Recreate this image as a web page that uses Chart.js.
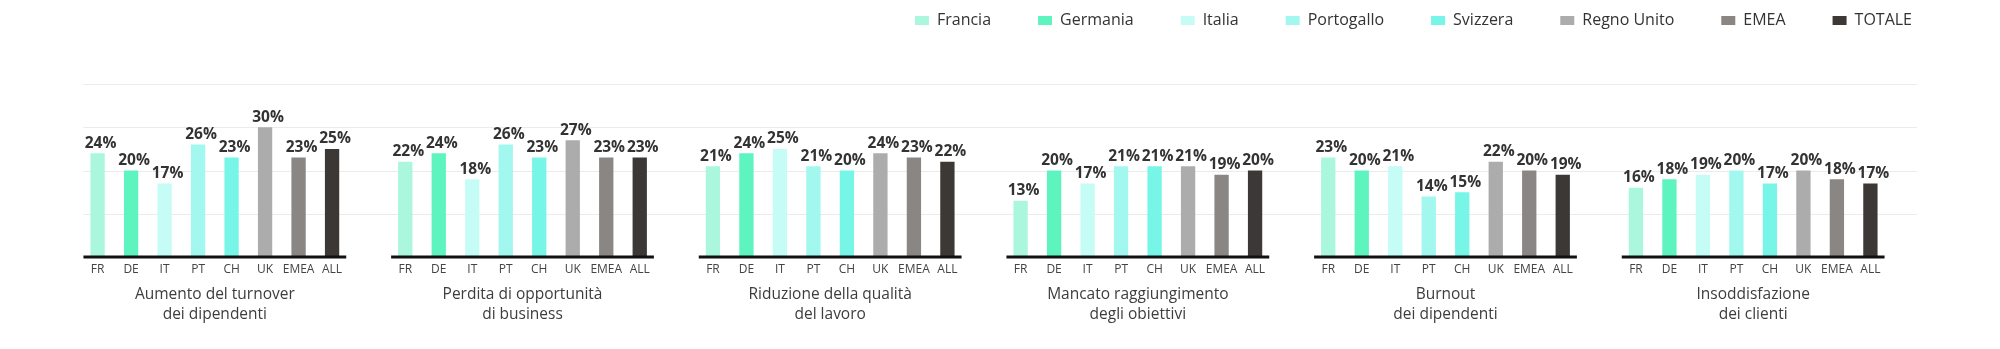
<!DOCTYPE html>
<html>
<head>
<meta charset="utf-8">
<script src="https://cdn.jsdelivr.net/npm/chart.js@4.4.1/dist/chart.umd.min.js"></script>
<style>
  html, body { margin: 0; padding: 0; background: #ffffff; }
  #wrap { width: 2000px; height: 349px; }
</style>
</head>
<body>
<div id="wrap"><canvas id="chart" width="2000" height="349"></canvas></div>
<script>
// Impatti: one group per consequence, one bar per country / aggregate
const groupLabels = [
  ["Aumento del turnover", "dei dipendenti"],
  ["Perdita di opportunità", "di business"],
  ["Riduzione della qualità", "del lavoro"],
  ["Mancato raggiungimento", "degli obiettivi"],
  ["Burnout", "dei dipendenti"],
  ["Insoddisfazione", "dei clienti"]
];
const countryCodes = ["FR", "DE", "IT", "PT", "CH", "UK", "EMEA", "ALL"];
const seriesNames = ["Francia", "Germania", "Italia", "Portogallo", "Svizzera", "Regno Unito", "EMEA", "TOTALE"];

// Percentages, in group order
const francia    = [24, 22, 21, 13, 23, 16];
const germania   = [20, 24, 24, 20, 20, 18];
const italia     = [17, 18, 25, 17, 21, 19];
const portogallo = [26, 26, 21, 21, 14, 20];
const svizzera   = [23, 23, 20, 21, 15, 17];
const regnoUnito = [30, 27, 24, 21, 22, 20];
const emea       = [23, 23, 23, 19, 20, 18];
const totale     = [25, 23, 22, 20, 19, 17];

const seriesValues = [francia, germania, italia, portogallo, svizzera, regnoUnito, emea, totale];
const seriesColors = ["#aaf7de", "#5ef4bf", "#c6fcf6", "#a2f8ef", "#77f6e7", "#acacac", "#8a8683", "#3b3836"];

const FONT = "'Open Sans', Lato, sans-serif";

// Faint horizontal guides, running across all groups
const guideLines = {
  id: 'guideLines',
  beforeDatasetsDraw(chart) {
    const { ctx, chartArea, scales: { y } } = chart;
    const first = chart.getDatasetMeta(0).data[0];
    const x0 = first.x - first.width / 2 - 7;
    const x1 = chartArea.right + 10;
    ctx.save();
    ctx.strokeStyle = '#ebebeb';
    ctx.lineWidth = 1;
    y.ticks.forEach(t => {
      if (t.value === 0) return;
      const py = Math.round(y.getPixelForValue(t.value)) + 0.5;
      ctx.beginPath();
      ctx.moveTo(x0, py);
      ctx.lineTo(x1, py);
      ctx.stroke();
    });
    ctx.restore();
  }
};

// Baseline under each group, country codes under each bar, values above
const barDecor = {
  id: 'barDecor',
  afterDatasetsDraw(chart) {
    const { ctx, scales: { y } } = chart;
    const base = y.getPixelForValue(0);
    const n = chart.data.datasets.length;
    const firstMeta = chart.getDatasetMeta(0).data;
    const lastMeta = chart.getDatasetMeta(n - 1).data;
    ctx.save();
    ctx.fillStyle = '#111111';
    firstMeta.forEach((el, i) => {
      const l = el.x - el.width / 2 - 7;
      const r = lastMeta[i].x + lastMeta[i].width / 2 + 7;
      ctx.fillRect(l, base - 1.5, r - l, 3);
    });
    ctx.textAlign = 'center';
    ctx.textBaseline = 'middle';
    chart.data.datasets.forEach((ds, di) => {
      const meta = chart.getDatasetMeta(di);
      meta.data.forEach((el, i) => {
        ctx.fillStyle = '#444444';
        ctx.font = "12px " + FONT;
        ctx.fillText(countryCodes[di], el.x, base + 13);
        ctx.fillStyle = '#333333';
        ctx.font = "bold 15.5px " + FONT;
        ctx.fillText(ds.data[i] + '%', el.x + 3, el.y - 10);
      });
    });
    ctx.restore();
  }
};

// Legend row, right aligned at the top
const legendRow = {
  id: 'legendRow',
  afterDraw(chart) {
    const { ctx } = chart;
    ctx.save();
    ctx.font = "16px " + FONT;
    ctx.textBaseline = 'middle';
    ctx.textAlign = 'left';
    let x = chart.width - 88;
    const cy = 20.5;
    chart.data.datasets.slice().reverse().forEach(ds => {
      const w = ctx.measureText(ds.label).width;
      const tx = x - w;
      ctx.fillStyle = '#333333';
      ctx.fillText(ds.label, tx, cy);
      const bx = tx - 8 - 14;
      ctx.fillStyle = ds.backgroundColor;
      ctx.fillRect(bx, cy - 4.5, 14, 9);
      x = bx - 47;
    });
    ctx.restore();
  }
};

new Chart(document.getElementById('chart'), {
  type: 'bar',
  data: {
    labels: groupLabels,
    datasets: seriesNames.map((name, i) => ({
      label: name,
      data: seriesValues[i],
      backgroundColor: seriesColors[i],
      borderWidth: 0,
      categoryPercentage: 0.871,
      barPercentage: 0.427
    }))
  },
  options: {
    responsive: false,
    animation: false,
    layout: { padding: { top: 84, left: 61, right: 93, bottom: 25 } },
    plugins: {
      legend: { display: false },
      tooltip: { enabled: false }
    },
    scales: {
      x: {
        grid: { display: false, drawTicks: false },
        border: { display: false },
        afterFit(scale) { scale.height = 67; },
        ticks: {
          padding: 28,
          color: '#3d3d3d',
          font: { family: FONT, size: 15.5, lineHeight: 1.26 },
          maxRotation: 0,
          autoSkip: false
        }
      },
      y: {
        display: false,
        min: 0,
        max: 40,
        ticks: { stepSize: 10 }
      }
    }
  },
  plugins: [guideLines, barDecor, legendRow]
});
</script>
</body>
</html>
